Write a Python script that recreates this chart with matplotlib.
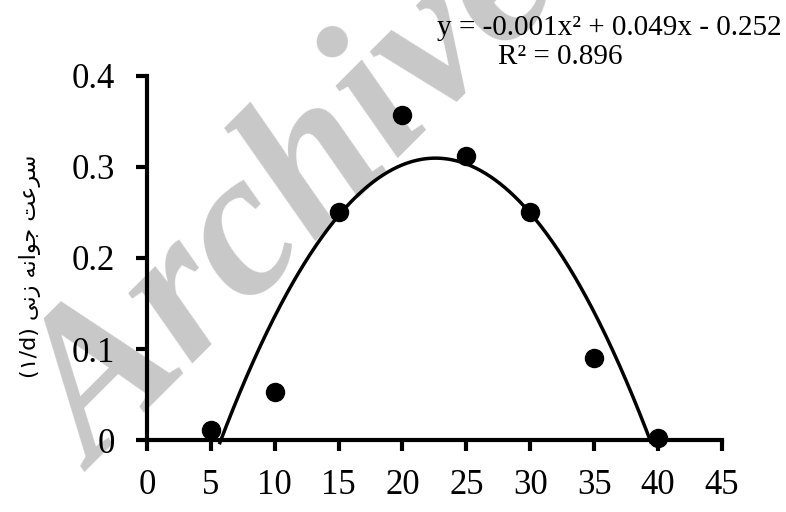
import numpy as np
import matplotlib
matplotlib.use("Agg")
import matplotlib.pyplot as plt

# data
temps = [5, 10, 15, 20, 25, 30, 35, 40]
rates = [0.011, 0.053, 0.250, 0.357, 0.312, 0.250, 0.090, 0.002]
x_ticks = [0, 5, 10, 15, 20, 25, 30, 35, 40, 45]
y_ticks = [0, 0.1, 0.2, 0.3, 0.4]
y_tick_labels = ["0", "0.1", "0.2", "0.3", "0.4"]
eq_text = "y = -0.001x\u00b2 + 0.049x - 0.252"
r2_text = "R\u00b2 = 0.896"
# "سرعت جوانه زنی (۱/d)" written in shaped presentation forms, visual order
persian = "\ufeb3\ufeae\ufecb\ufe96 \ufe9f\ufeee\ufe8d\ufee7\ufeea \ufeaf\ufee7\ufbfd"
y_label = "(\u06f1/d) " + persian[::-1]

serif = ["Liberation Serif", "DejaVu Serif"]

fig = plt.figure(figsize=(7.86, 5.12), dpi=100)

# watermark behind everything
fig.text(-0.008, 0.105, "Archive", rotation=45, fontsize=150, color="#c8c8c8",
         family=serif, weight="bold", style="italic", ha="left", va="baseline",
         zorder=-1)

ax = fig.add_axes([0.187, 0.1406, 0.7314, 0.711])
ax.patch.set_alpha(0)

coef = np.polyfit(temps, rates, 2)
xs = np.linspace(0, 45, 600)
ys = np.polyval(coef, xs)
ys = np.where(ys >= -0.003, ys, np.nan)
ax.plot(xs, ys, color="black", lw=2.5, clip_on=False, zorder=3)
ax.plot(temps, rates, "o", color="black", ms=13, clip_on=False, zorder=4)

ax.set_xlim(0, 45)
ax.set_ylim(0, 0.4)
ax.set_xticks(x_ticks)
ax.set_yticks(y_ticks)
ax.set_yticklabels(y_tick_labels)
for s in ["top", "right"]:
    ax.spines[s].set_visible(False)
for s in ["left", "bottom"]:
    ax.spines[s].set_linewidth(3)
ax.tick_params(axis="both", direction="out", length=8, width=3,
               labelsize=25, colors="black")
ax.tick_params(axis="x", pad=13)
ax.tick_params(axis="y", pad=15)
for lab in ax.get_xticklabels() + ax.get_yticklabels():
    lab.set_family(serif)

fig.text(0.038, 0.48, y_label, rotation=90, fontsize=16, ha="center",
         va="center", family=["DejaVu Sans"])

fig.text(0.995, 0.945, eq_text, fontsize=21, family=serif, ha="right",
         va="center")
fig.text(0.713, 0.888, r2_text, fontsize=21, family=serif, ha="center",
         va="center")

fig.savefig("out.png", dpi=100)
